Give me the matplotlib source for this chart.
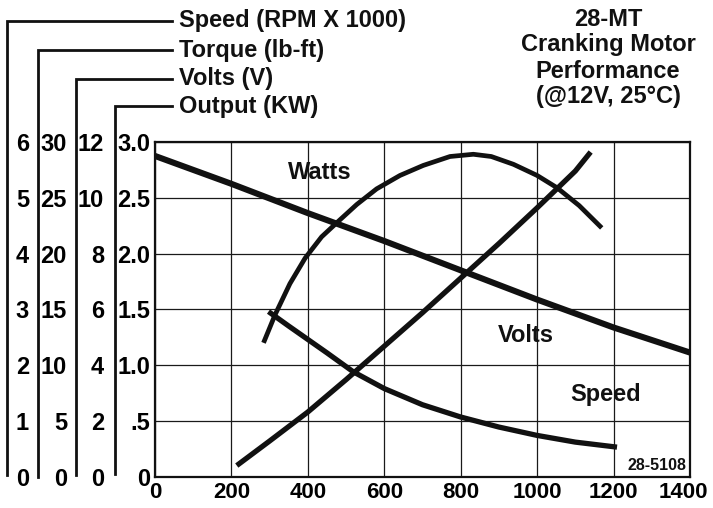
import matplotlib
matplotlib.use('Agg')
import matplotlib.pyplot as plt
from matplotlib.lines import Line2D
from matplotlib.transforms import ScaledTranslation

plt.rcParams['font.family'] = ['Liberation Sans', 'DejaVu Sans']
plt.rcParams['font.weight'] = 'bold'

# ---------------- data (x = current, A) ----------------
x_ticks = [0, 200, 400, 600, 800, 1000, 1200, 1400]
x_tick_labels = ['0', '200', '400', '600', '800', '1000', '1200', '1400']

output_ticks = [0, 0.5, 1.0, 1.5, 2.0, 2.5, 3.0]
output_labels = ['0', '.5', '1.0', '1.5', '2.0', '2.5', '3.0']
volts_ticks = [0, 2, 4, 6, 8, 10, 12]
volts_labels = ['0', '2', '4', '6', '8', '10', '12']
torque_ticks = [0, 5, 10, 15, 20, 25, 30]
torque_labels = ['0', '5', '10', '15', '20', '25', '30']
speed_ticks = [0, 1, 2, 3, 4, 5, 6]
speed_labels = ['0', '1', '2', '3', '4', '5', '6']

# Output (KW) -- "Watts" curve
watts_amps = [284, 314, 353, 393, 436, 480, 528, 580, 641, 702, 772,
              833, 880, 938, 1000, 1052, 1110, 1169]
watts_kw = [1.20, 1.45, 1.73, 1.96, 2.15, 2.29, 2.44, 2.58, 2.70, 2.79, 2.87,
            2.89, 2.87, 2.80, 2.70, 2.59, 2.43, 2.23]

# Volts (V)
volts_amps = [0, 200, 400, 600, 800, 1000, 1200, 1400]
volts_v = [11.5, 10.5, 9.45, 8.45, 7.4, 6.35, 5.35, 4.45]

# Torque (lb-ft)
torque_amps = [214, 300, 400, 500, 600, 700, 800, 900, 1000, 1100, 1140]
torque_lbft = [1.0, 3.2, 5.8, 8.7, 11.7, 14.7, 17.8, 20.9, 24.1, 27.4, 29.1]

# Speed (RPM x 1000)
speed_amps = [297, 350, 400, 450, 519, 600, 700, 800, 900, 1000, 1100, 1209]
speed_krpm = [2.96, 2.70, 2.46, 2.22, 1.88, 1.58, 1.29, 1.07, 0.89, 0.74, 0.62, 0.53]

# ---------------- figure ----------------
W, H = 713, 508
fig = plt.figure(figsize=(W / 100, H / 100), dpi=100)
L, R, T, B = 155, 690, 142, 476.7
ax = fig.add_axes([L / W, 1 - B / H, (R - L) / W, (B - T) / H])
ax.set_xlim(0, 1400)
ax.set_ylim(0, 3.0)
ax.set_xticks(x_ticks, x_tick_labels)
ax.set_yticks(output_ticks, output_labels)
ax.tick_params(axis='y', length=0, labelsize=17, pad=3.6)
ax.tick_params(axis='x', length=0, labelsize=16, pad=4)
ax.grid(True, color='#1a1a1a', lw=0.9)
for s in ax.spines.values():
    s.set_linewidth(1.6)
    s.set_color('#111111')

ink = '#111111'


def make_twin(ylim, ticks, labels, pad):
    t = ax.twinx()
    t.set_ylim(*ylim)
    t.yaxis.tick_left()
    t.set_yticks(ticks, labels)
    t.tick_params(axis='y', length=0, pad=pad, labelsize=17)
    for s in t.spines.values():
        s.set_visible(False)
    return t


ax_v = make_twin((0, 12), volts_ticks, volts_labels, 36.7)
ax_t = make_twin((0, 30), torque_ticks, torque_labels, 63.4)
ax_s = make_twin((0, 6), speed_ticks, speed_labels, 90.7)

ax.plot(watts_amps, watts_kw, color=ink, lw=3.4, zorder=3, solid_capstyle='butt')
ax_v.plot(volts_amps, volts_v, color=ink, lw=4.4, solid_capstyle='butt', clip_on=False)
ax_t.plot(torque_amps, torque_lbft, color=ink, lw=3.8, solid_capstyle='butt')
ax_s.plot(speed_amps, speed_krpm, color=ink, lw=3.8, solid_capstyle='butt')

ax.text(432, 2.73, 'Watts', ha='center', va='center', fontsize=17, color=ink, zorder=4)
ax.text(971, 1.27, 'Volts', ha='center', va='center', fontsize=17, color=ink, zorder=4)
ax.text(1178, 0.735, 'Speed', ha='center', va='center', fontsize=17, color=ink, zorder=4)
ax.text(1313, 0.10, '28-5108', ha='center', va='center', fontsize=11.5, color=ink, zorder=4)

# shift last x tick label so it stays inside the figure
lbl = ax.get_xticklabels()[-1]
lbl.set_transform(lbl.get_transform() + ScaledTranslation(-7 / 100, 0, fig.dpi_scale_trans))

# ---------------- left bracket lines and labels ----------------
def fpx(x, y):
    return x / W, 1 - y / H


brackets = [(7, 21, 475, 'Speed (RPM X 1000)'),
            (38, 50, 477, 'Torque (lb-ft)'),
            (76, 79, 475, 'Volts (V)'),
            (115, 106, 474, 'Output (KW)')]
for xv, ytop, ybot, label in brackets:
    x0, y0 = fpx(xv, ytop)
    x1, y1 = fpx(172, ytop)
    _, yb = fpx(xv, ybot)
    fig.add_artist(Line2D([x0, x0, x1], [yb, y0, y1], color=ink, lw=2.0,
                          solid_joinstyle='miter'))
    tx, ty = fpx(179, ytop)
    fig.text(tx, ty, label, ha='left', va='center', fontsize=17, color=ink)

# ---------------- title ----------------
title_lines = ['28-MT', 'Cranking Motor', 'Performance', '(@12V, 25°C)']
title_y = [19.5, 45, 71, 96]
for line, yy in zip(title_lines, title_y):
    tx, ty = fpx(608, yy)
    fig.text(tx, ty, line, ha='center', va='center', fontsize=17, color=ink)

fig.savefig('out.png', dpi=100)
